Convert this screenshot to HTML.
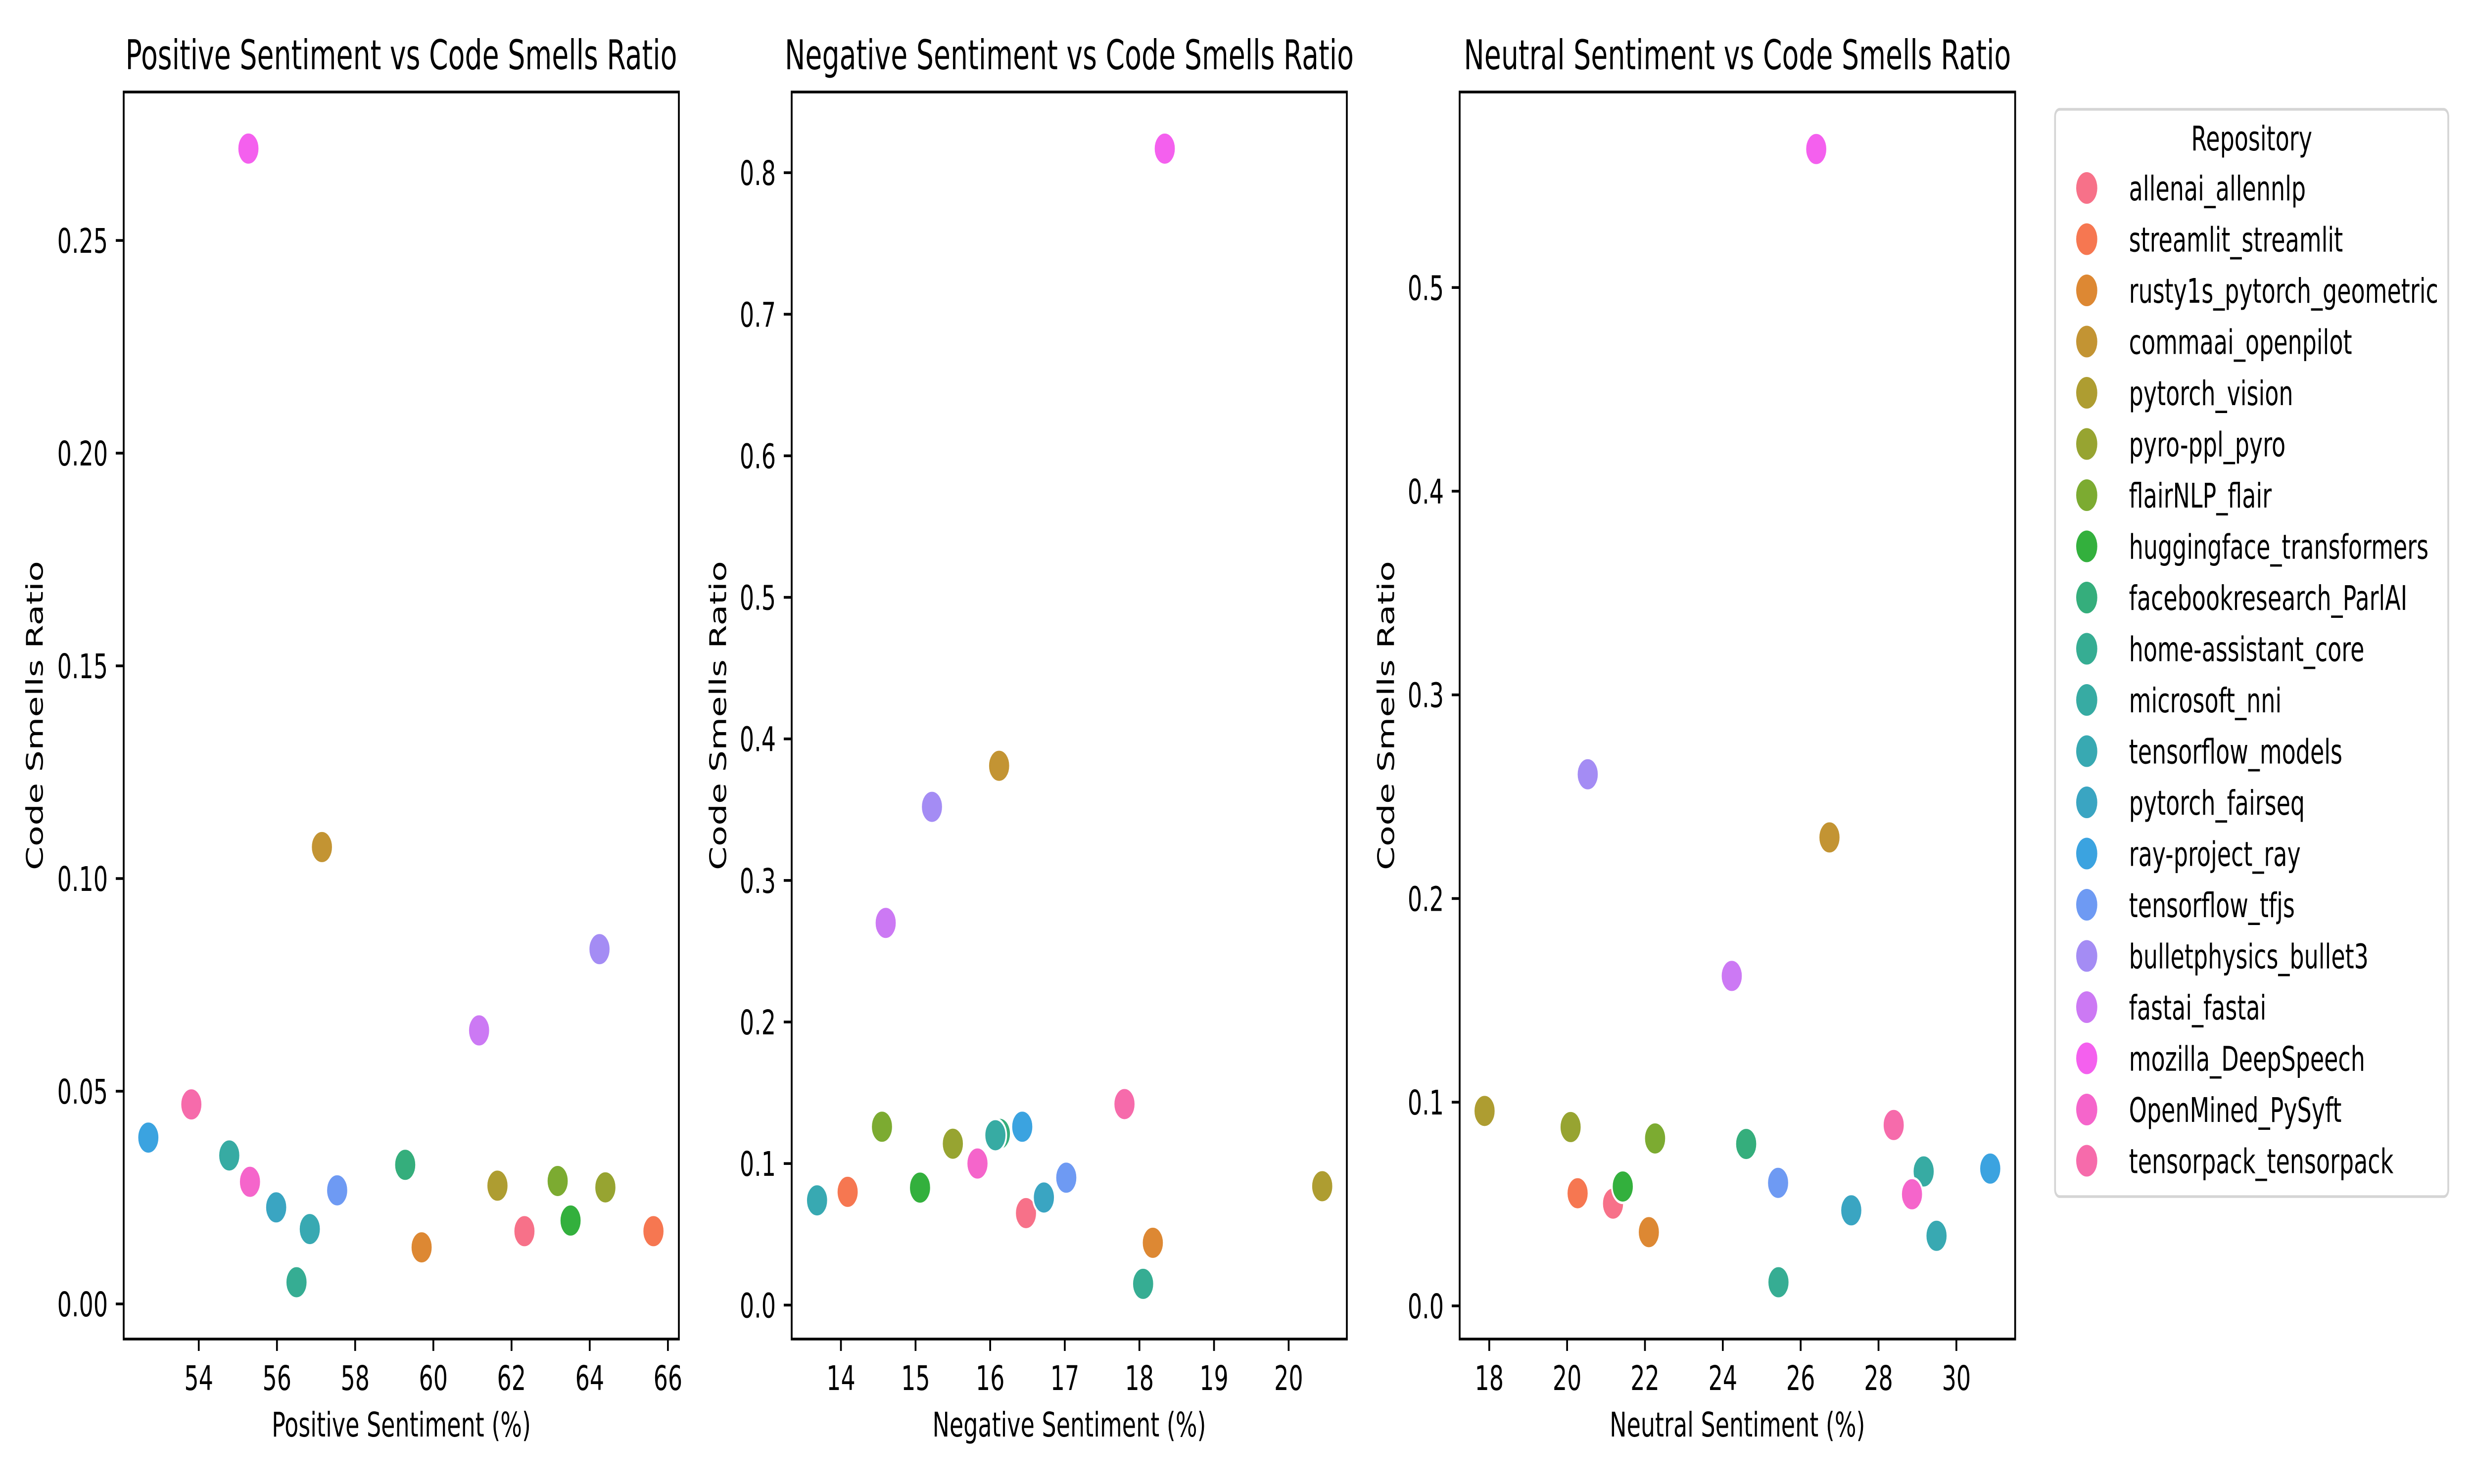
<!DOCTYPE html>
<html><head><meta charset="utf-8"><style>
html,body{margin:0;padding:0;background:#fff;width:100%;height:100%;overflow:hidden;}
svg{display:block;width:100vw;height:100vh;font-family:"DejaVu Sans","Liberation Sans",sans-serif;}
</style></head><body>
<svg id="fig" viewBox="0 0 7500 3000" preserveAspectRatio="none" xmlns="http://www.w3.org/2000/svg"></svg>
<script>
const repos = ["allenai_allennlp","streamlit_streamlit","rusty1s_pytorch_geometric","commaai_openpilot","pytorch_vision","pyro-ppl_pyro","flairNLP_flair","huggingface_transformers","facebookresearch_ParlAI","home-assistant_core","microsoft_nni","tensorflow_models","pytorch_fairseq","ray-project_ray","tensorflow_tfjs","bulletphysics_bullet3","fastai_fastai","mozilla_DeepSpeech","OpenMined_PySyft","tensorpack_tensorpack"];
const colors = ["#f77189","#f67751","#dd8833","#c39433","#ae9d31","#97a431","#7cab31","#33b03d","#35ae7c","#36ad93","#37aba3","#38a9b2","#3aa5c2","#3ba3e0","#6e9af3","#a48cf4","#cc79f4","#f460ee","#f565cb","#f66bab"];
const posX = [62.33,65.63,59.70,57.15,61.64,64.40,63.18,63.51,59.28,56.50,54.78,56.84,55.98,52.71,57.54,64.25,61.17,55.27,55.31,53.81];
const posY = [0.0171,0.0171,0.0133,0.1074,0.0278,0.0274,0.0289,0.0196,0.0327,0.0051,0.0349,0.0176,0.0227,0.0391,0.0267,0.0834,0.0643,0.2716,0.0287,0.0469];
const negX = [16.48,14.09,18.18,16.12,20.45,15.50,14.55,15.06,16.13,18.05,16.07,13.68,16.72,16.43,17.02,15.22,14.60,18.34,15.83,17.80];
const negY = [0.065,0.080,0.044,0.381,0.084,0.114,0.126,0.083,0.121,0.015,0.120,0.074,0.076,0.126,0.090,0.352,0.270,0.817,0.100,0.142];
const neuX = [21.18,20.27,22.10,26.74,17.88,20.09,22.26,21.43,24.60,25.43,29.16,29.49,27.30,30.87,25.42,20.53,24.23,26.40,28.86,28.39];
const neuY = [0.0502,0.0553,0.0362,0.230,0.0957,0.0878,0.0822,0.0586,0.0795,0.0116,0.0660,0.0344,0.0469,0.0674,0.0604,0.261,0.162,0.568,0.0548,0.0888];
const posXTicks = [54,56,58,60,62,64,66];
const posYTicks = [0,0.05,0.10,0.15,0.20,0.25];
const posYLabels = ["0.00","0.05","0.10","0.15","0.20","0.25"];
const negXTicks = [14,15,16,17,18,19,20];
const negYTicks = [0,0.1,0.2,0.3,0.4,0.5,0.6,0.7,0.8];
const negYLabels = ["0.0","0.1","0.2","0.3","0.4","0.5","0.6","0.7","0.8"];
const neuXTicks = [18,20,22,24,26,28,30];
const neuYTicks = [0,0.1,0.2,0.3,0.4,0.5];
const neuYLabels = ["0.0","0.1","0.2","0.3","0.4","0.5"];

const NS="http://www.w3.org/2000/svg";
const svg=document.getElementById('fig');
function mk(tag,attrs,parent){const e=document.createElementNS(NS,tag);for(const k in attrs)e.setAttribute(k,attrs[k]);(parent||svg).appendChild(e);return e;}
const TOP=186,BOT=2707;
const panels=[
 {key:"positive",title:"Positive Sentiment vs Code Smells Ratio",xl:"Positive Sentiment (%)",L:375,R:2058,xmin:52.08,xmax:66.28,ymin:-0.00826,ymax:0.2849,xs:posX,ys:posY,xt:posXTicks,yt:posYTicks,ytl:posYLabels},
 {key:"negative",title:"Negative Sentiment vs Code Smells Ratio",xl:"Negative Sentiment (%)",L:2400,R:4083,xmin:13.34,xmax:20.78,ymin:-0.024,ymax:0.857,xs:negX,ys:negY,xt:negXTicks,yt:negYTicks,ytl:negYLabels},
 {key:"neutral",title:"Neutral Sentiment vs Code Smells Ratio",xl:"Neutral Sentiment (%)",L:4425,R:6109,xmin:17.24,xmax:31.51,ymin:-0.0163,ymax:0.596,xs:neuX,ys:neuY,xt:neuXTicks,yt:neuYTicks,ytl:neuYLabels}
];
panels.forEach(p=>{
  const g=mk('g',{});
  
  
  const sx=v=>p.L+(v-p.xmin)/(p.xmax-p.xmin)*(p.R-p.L);
  const sy=v=>BOT-(v-p.ymin)/(p.ymax-p.ymin)*(BOT-TOP);
  p.xs.forEach((xv,i)=>{
    const c=mk('circle',{cx:sx(xv),cy:sy(p.ys[i]),r:33,fill:colors[i],stroke:'#fff','stroke-width':5},g);
    
    
  });
  const fr=mk('rect',{x:p.L,y:TOP,width:p.R-p.L,height:BOT-TOP,fill:'none',stroke:'#000','stroke-width':5.5},g);
  
  
  p.xt.forEach(t=>{
    const x=sx(t);
    const tk=mk('line',{x1:x,x2:x,y1:BOT,y2:BOT+24,stroke:'#000','stroke-width':5.5},g);
    
    
    const tl=mk('text',{x:x,y:2810,'font-size':69,'text-anchor':'middle'},g);
    tl.textContent=String(t);
    
    
  });
  p.yt.forEach((t,j)=>{
    const y=sy(t);
    const tk=mk('line',{x1:p.L-24,x2:p.L,y1:y,y2:y,stroke:'#000','stroke-width':5.5},g);
    
    
    const tl=mk('text',{x:p.L-48,y:y+25,'font-size':69,'text-anchor':'end'},g);
    tl.textContent=p.ytl[j];
    
    
  });
  const cx=(p.L+p.R)/2;
  const tt=mk('text',{x:cx,y:140,'font-size':83,'text-anchor':'middle'},g);
  tt.textContent=p.title;
  
  
  const xl=mk('text',{x:cx,y:2904,'font-size':69,'text-anchor':'middle'},g);
  xl.textContent=p.xl;
  
  
  const ylx=p.key==='positive'?105:p.L-224;
  const cy=(TOP+BOT)/2;
  const yl=mk('text',{x:ylx+25,y:cy,'font-size':69,'text-anchor':'middle',transform:'rotate(-90 '+(ylx+25)+' '+cy+')'},g);
  yl.textContent='Code Smells Ratio';
  
  
});
const lg=mk('g',{});


const lb=mk('rect',{x:6230,y:221,width:1192,height:2198,rx:14,fill:'#fff','fill-opacity':0.8,stroke:'#d5d5d5','stroke-width':5.5},lg);


const lt=mk('text',{x:6826,y:304,'font-size':69,'text-anchor':'middle'},lg);
lt.textContent='Repository';


repos.forEach((r,i)=>{
  const y=380+i*103.5;
  const e=mk('g',{},lg);
  
  
  mk('circle',{cx:6326,cy:y,r:32,fill:colors[i]},e);
  const t=mk('text',{x:6454,y:y+25,'font-size':69},e);
  t.textContent=r;
});
</script>
</body></html>
